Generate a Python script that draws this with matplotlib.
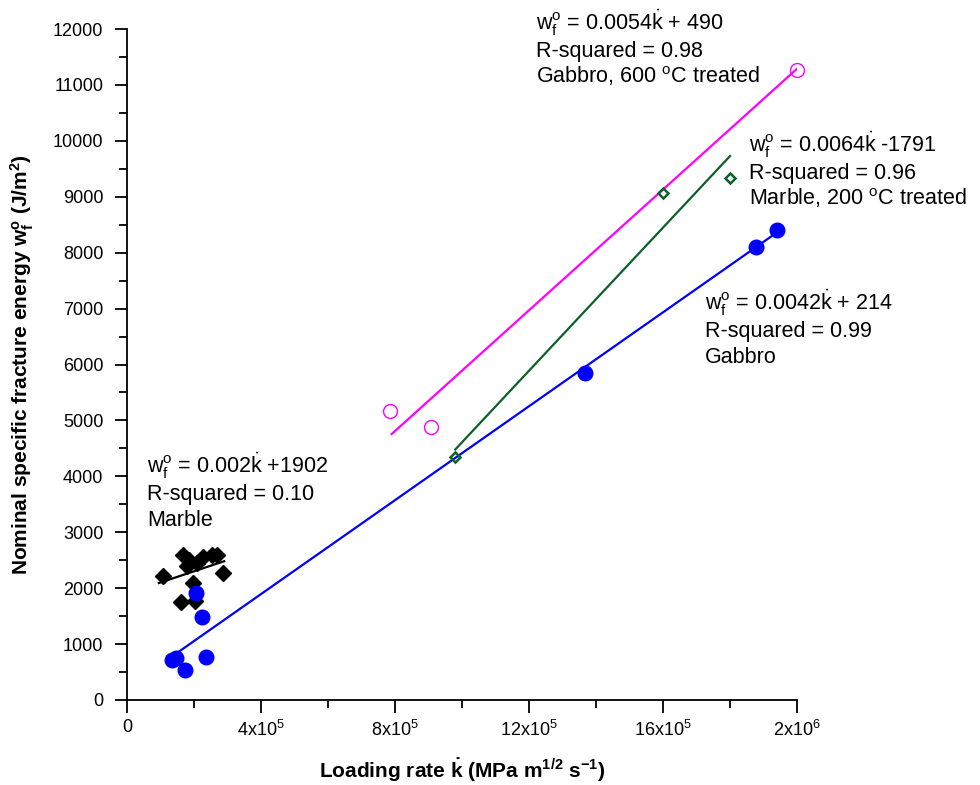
import numpy as np
import matplotlib
matplotlib.use('Agg')
from matplotlib import pyplot as plt
from matplotlib.ticker import MultipleLocator, FixedLocator

plt.rcParams['font.family'] = ['Liberation Sans', 'DejaVu Sans']
plt.rcParams['mathtext.fontset'] = 'custom'
plt.rcParams['mathtext.rm'] = 'Liberation Sans'
plt.rcParams['mathtext.it'] = 'Liberation Sans:italic'
plt.rcParams['mathtext.bf'] = 'Liberation Sans:bold'

# loading rate (MPa m^1/2 s^-1) and fracture energy (J/m^2)
marble_x = [107e3, 167e3, 185e3, 179e3, 209e3, 227e3, 254e3, 269e3, 287e3, 197e3, 161e3, 203e3]
marble_y = [2217, 2593, 2504, 2396, 2450, 2557, 2593, 2593, 2271, 2092, 1752, 1770]

gabbro_x = [134e3, 146e3, 173e3, 236e3, 206e3, 224e3, 1367e3, 1878e3, 1940e3]
gabbro_y = [715, 751, 536, 769, 1913, 1484, 5848, 8101, 8405]

gabbro600_x = [785e3, 907e3, 2000e3]
gabbro600_y = [5168, 4882, 11266]

marble200_x = [979e3, 1600e3, 1800e3]
marble200_y = [4345, 9066, 9335]

# linear fits: slope, intercept, x range
fit_marble = (0.002, 1902, 95e3, 290e3)
fit_gabbro = (0.0042, 214, 140e3, 1940e3)
fit_gabbro600 = (0.0054, 490, 790e3, 2000e3)
fit_marble200 = (0.0064, -1791, 980e3, 1800e3)

x_ticks = [0, 4e5, 8e5, 12e5, 16e5, 2e6]
x_tick_labels = ['0', r'4x10$^{5}$', r'8x10$^{5}$', r'12x10$^{5}$', r'16x10$^{5}$', r'2x10$^{6}$']

K = r'$\dot{\mathrm{k}}$'
W = r'w$_\mathrm{f}^\mathrm{o}$'


def fit_line(ax, fit, color):
    a, b, x0, x1 = fit
    xs = np.array([x0, x1])
    ax.plot(xs, a * xs + b, color=color, lw=1.6, zorder=2)


def label(ax, x, y, lines):
    for i, s in enumerate(lines):
        ax.text(x, y - i * 474, s, fontsize=15.5, va='baseline', ha='left',
                clip_on=False)


fig = plt.figure(figsize=(9.8, 7.85), dpi=100)
ax = fig.add_axes([0.1296, 0.1083, 0.6837, 0.8547])

green = '#0b6128'
fit_line(ax, fit_marble, 'black')
fit_line(ax, fit_gabbro, '#0000ff')
fit_line(ax, fit_gabbro600, '#ff00ff')
fit_line(ax, fit_marble200, green)

ax.plot(marble_x, marble_y, 'D', color='black', ms=8.5, zorder=3, clip_on=False)
ax.plot(gabbro_x, gabbro_y, 'o', color='#0000ff', ms=10.5, zorder=3, clip_on=False)
ax.plot(gabbro600_x, gabbro600_y, 'o', mfc='none', mec='#ff00ff', mew=1.0,
        ms=10, zorder=3, clip_on=False)
ax.plot(marble200_x, marble200_y, 'D', mfc='none', mec=green, mew=1.8,
        ms=5.5, zorder=3, clip_on=False)

label(ax, 1.221e6, 11981, [W + ' = 0.0054' + K + ' + 490', 'R-squared = 0.98',
                           r'Gabbro, 600 $^\mathrm{o}$C treated'])
label(ax, 1.857e6, 9800, [W + ' = 0.0064' + K + ' -1791', 'R-squared = 0.96',
                          r'Marble, 200 $^\mathrm{o}$C treated'])
label(ax, 1.725e6, 6974, [W + ' = 0.0042' + K + ' + 214', 'R-squared = 0.99',
                          'Gabbro'])
label(ax, 0.0597e6, 4059, [W + ' = 0.002' + K + ' +1902', 'R-squared = 0.10',
                           'Marble'])

ax.set_xlim(0, 2e6)
ax.set_ylim(0, 12000)
ax.xaxis.set_major_locator(FixedLocator(x_ticks))
ax.set_xticklabels(x_tick_labels)
ax.xaxis.set_minor_locator(MultipleLocator(2e5))
ax.yaxis.set_major_locator(MultipleLocator(1000))
ax.yaxis.set_minor_locator(MultipleLocator(500))
ax.tick_params(which='both', direction='out', width=1.3, labelsize=13)
ax.tick_params(which='major', length=9)
ax.tick_params(which='minor', length=6)
ax.tick_params(axis='x', pad=5)
ax.tick_params(axis='y', pad=8)
for side in ['top', 'right']:
    ax.spines[side].set_visible(False)
for side in ['left', 'bottom']:
    ax.spines[side].set_linewidth(1.3)

ax.set_xlabel('Loading rate ' + r'$\mathbf{\dot{k}}$' + r' (MPa m$^\mathbf{1/2}$ s$^\mathbf{-1}$)',
              fontsize=15, fontweight='bold', labelpad=12)
ax.set_ylabel(r'Nominal specific fracture energy w$_\mathbf{f}^\mathbf{o}$ (J/m$^\mathbf{2}$)',
              fontsize=15, fontweight='bold', labelpad=12)

plt.savefig('out.png', dpi=100)
